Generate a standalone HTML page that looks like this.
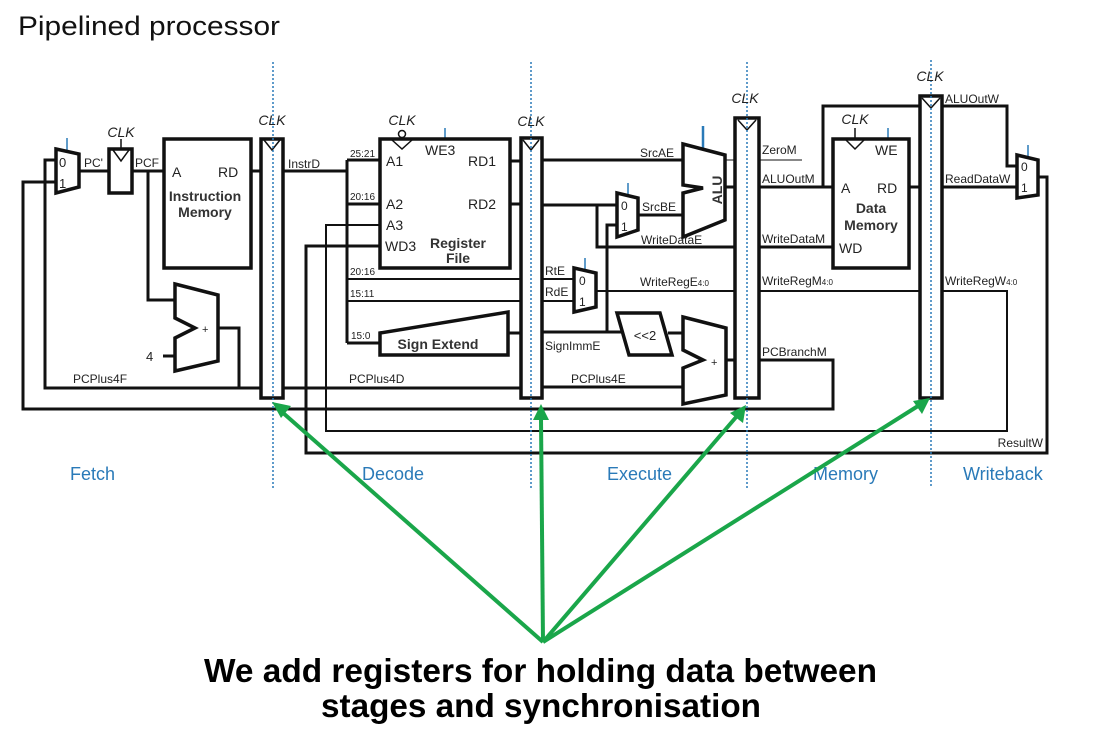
<!DOCTYPE html>
<html><head><meta charset="utf-8"><style>
html,body{margin:0;padding:0;background:#fff;}
svg{display:block;font-family:"Liberation Sans",Arial,sans-serif;}
</style></head><body>
<svg width="1100" height="735" viewBox="0 0 1100 735" xmlns="http://www.w3.org/2000/svg">
<text x="18" y="35" font-size="27" fill="#111" textLength="262" lengthAdjust="spacingAndGlyphs">Pipelined processor</text>

<g fill="none" stroke="#111" stroke-width="3" stroke-linejoin="miter">
<polyline points="79,171 109,171"/>
<polyline points="132,171 164,171"/>
<polyline points="148,171 148,300 175,300"/>
<polyline points="251,171 261,171"/>
<polyline points="218,328 239,328 239,388"/>
<polyline points="56,160 45,160 45,388 261,388"/>
<polyline points="56,182 23,182 23,409 833,409 833,360 759,360"/>
<polyline points="163,356 175,356"/>
<polyline points="283,171 347,171"/>
<polyline points="347,160 347,343"/>
<polyline points="347,160 380,160"/>
<polyline points="347,204 380,204"/>
<polyline points="347,343 380,343"/>
<polyline points="510,161 521,161"/>
<polyline points="510,204 521,204"/>
<polyline points="508,333 521,333"/>
<polyline points="283,388 521,388"/>
<polyline points="380,246 306,246 306,453 1047,453 1047,177 1038,177"/>
<polyline points="542,160 683,160"/>
<polyline points="542,205 617,205"/>
<polyline points="597,205 597,247 735,247"/>
<polyline points="617,225 607,225 607,332"/>
<polyline points="638,215 683,215"/>
<polyline points="542,332 622,332"/>
<polyline points="668,333 683,333"/>
<polyline points="542,387 683,387"/>
<polyline points="725,187 735,187"/>
<polyline points="726,360 735,360"/>
<polyline points="759,187 833,187"/>
<polyline points="823,187 823,106 920,106"/>
<polyline points="759,247 833,247"/>
<polyline points="909,187 920,187"/>
<polyline points="942,106 1007,106 1007,166 1017,166"/>
<polyline points="942,187 1017,187"/>
</g>
<g fill="none" stroke="#111" stroke-width="2">
<polyline points="347,279 521,279"/>
<polyline points="347,301 521,301"/>
<polyline points="380,225 326,225 326,431 1007,431 1007,291 942,291"/>
<polyline points="542,279 574,279"/>
<polyline points="542,301 574,301"/>
<polyline points="596,291 735,291"/>
<polyline points="759,291 920,291"/>
</g>
<line x1="725" y1="160" x2="802" y2="160" stroke="#111" stroke-width="1"/>

<g stroke="#2a7ab8" stroke-width="1.5">
<line x1="67" y1="138" x2="67" y2="151"/>
<line x1="445" y1="128" x2="445" y2="139"/>
<line x1="628" y1="183" x2="628" y2="196"/>
<line x1="585" y1="258" x2="585" y2="270"/>
<line x1="888" y1="128" x2="888" y2="139"/>
<line x1="1028" y1="145" x2="1028" y2="158"/>
<line x1="703" y1="126" x2="703" y2="149" stroke-width="2.5"/>
</g>
<g stroke="#111" stroke-width="1.5">
<line x1="121" y1="139" x2="121" y2="149"/>
<line x1="855" y1="128" x2="855" y2="139"/>
</g>

<g fill="#fff" stroke="#111" stroke-width="3.5">
<polygon points="56,149 79,154 79,187 56,193"/>
<rect x="109" y="149" width="23" height="44"/>
<rect x="164" y="139" width="87" height="129"/>
<polygon points="175,284 218,295 218,361 175,371 175,338 195,328 175,318"/>
<rect x="380" y="139" width="130" height="129"/>
<polygon points="380,333 508,312 508,355 380,355"/>
<polygon points="683,144 725,155 725,220 683,237 683,193 703,188 683,185"/>
<polygon points="617,193 638,198 638,230 617,237"/>
<polygon points="574,268 596,273 596,307 574,312"/>
<polygon points="617,313 660,313 672,355 629,355"/>
<polygon points="683,317 726,328 726,395 683,404 683,368 703,360 683,350"/>
<rect x="833" y="139" width="76" height="129"/>
<polygon points="1017,155 1038,160 1038,195 1017,198"/>
<rect x="261" y="139" width="22" height="259"/>
<rect x="521" y="138" width="21" height="260"/>
<rect x="735" y="118" width="24" height="280"/>
<rect x="920" y="96" width="22" height="302"/>
</g>
<g fill="none" stroke="#111" stroke-width="1.5">
<polyline points="113,150 121,161 129,150"/>
<polyline points="264,140 272,150 280,140"/>
<polyline points="392,140 402,149 412,140"/>
<circle cx="402" cy="134" r="3.5" fill="#fff"/>
<polyline points="523,140 531,150 539,140"/>
<polyline points="738,120 747,130 756,120"/>
<polyline points="846,140 855,149 864,140"/>
<polyline points="922,98 931,108 940,98"/>
</g>

<g stroke="#2a7ab8" stroke-width="1.5" stroke-dasharray="2,2">
<line x1="273" y1="62" x2="273" y2="488"/>
<line x1="531" y1="62" x2="531" y2="488"/>
<line x1="747" y1="62" x2="747" y2="488"/>
<line x1="931" y1="60" x2="931" y2="488"/>
</g>

<g fill="#222" font-size="14" font-style="italic" text-anchor="middle">
<text x="121" y="137">CLK</text>
<text x="272" y="125">CLK</text>
<text x="402" y="125">CLK</text>
<text x="531" y="126">CLK</text>
<text x="745" y="103">CLK</text>
<text x="855" y="124">CLK</text>
<text x="930" y="81">CLK</text>
</g>
<g fill="#222" font-size="13">
<text x="59" y="167">0</text><text x="59" y="188">1</text>
<text x="84" y="167" font-size="12">PC'</text>
<text x="135" y="167" font-size="12">PCF</text>
<text x="172" y="177" font-size="14">A</text>
<text x="218" y="177" font-size="14">RD</text>
<text x="146" y="361" font-size="13">4</text>
<text x="202" y="333" font-size="11">+</text>
<text x="73" y="383" font-size="12">PCPlus4F</text>
<text x="288" y="168" font-size="12">InstrD</text>
<text x="350" y="157" font-size="10">25:21</text>
<text x="350" y="200" font-size="10">20:16</text>
<text x="350" y="275" font-size="10">20:16</text>
<text x="350" y="297" font-size="10">15:11</text>
<text x="351" y="339" font-size="10">15:0</text>
<text x="386" y="166" font-size="14">A1</text>
<text x="386" y="209" font-size="14">A2</text>
<text x="386" y="230" font-size="14">A3</text>
<text x="385" y="251" font-size="14">WD3</text>
<text x="425" y="155" font-size="14">WE3</text>
<text x="468" y="166" font-size="14">RD1</text>
<text x="468" y="209" font-size="14">RD2</text>
<text x="349" y="383" font-size="12">PCPlus4D</text>
<text x="545" y="275" font-size="12">RtE</text>
<text x="545" y="296" font-size="12">RdE</text>
<text x="579" y="285" font-size="12">0</text><text x="579" y="306" font-size="12">1</text>
<text x="545" y="350" font-size="12">SignImmE</text>
<text x="571" y="383" font-size="12">PCPlus4E</text>
<text x="640" y="157" font-size="12">SrcAE</text>
<text x="642" y="211" font-size="12">SrcBE</text>
<text x="621" y="210" font-size="12">0</text><text x="621" y="231" font-size="12">1</text>
<text x="641" y="244" font-size="12">WriteDataE</text>
<text x="640" y="286" font-size="12">WriteRegE<tspan font-size="8">4:0</tspan></text>
<text x="645" y="340" font-size="13" text-anchor="middle">&lt;&lt;2</text>
<text x="711" y="366" font-size="11">+</text>
<text x="762" y="154" font-size="12">ZeroM</text>
<text x="762" y="183" font-size="12">ALUOutM</text>
<text x="762" y="243" font-size="12">WriteDataM</text>
<text x="762" y="285" font-size="12">WriteRegM<tspan font-size="8">4:0</tspan></text>
<text x="762" y="356" font-size="12">PCBranchM</text>
<text x="841" y="193" font-size="14">A</text>
<text x="877" y="193" font-size="14">RD</text>
<text x="875" y="155" font-size="14">WE</text>
<text x="839" y="253" font-size="14">WD</text>
<text x="945" y="103" font-size="12">ALUOutW</text>
<text x="945" y="183" font-size="12">ReadDataW</text>
<text x="945" y="285" font-size="12">WriteRegW<tspan font-size="8">4:0</tspan></text>
<text x="1043" y="447" font-size="12" text-anchor="end">ResultW</text>
<text x="1021" y="171" font-size="12">0</text><text x="1021" y="192" font-size="12">1</text>
</g>
<text x="717" y="190" font-size="14" font-weight="bold" fill="#333" text-anchor="middle" transform="rotate(-90 717 190)" dy="5">ALU</text>
<g fill="#333" font-size="14" font-weight="bold" text-anchor="middle">
<text x="205" y="201">Instruction</text>
<text x="205" y="217">Memory</text>
<text x="458" y="248">Register</text>
<text x="458" y="263">File</text>
<text x="438" y="349">Sign Extend</text>
<text x="871" y="213">Data</text>
<text x="871" y="230">Memory</text>
</g>
<g fill="#2a7ab8" font-size="18">
<text x="70" y="480">Fetch</text>
<text x="362" y="480">Decode</text>
<text x="607" y="480">Execute</text>
<text x="813" y="480">Memory</text>
<text x="963" y="480">Writeback</text>
</g>

<g stroke="#1aa64a" stroke-width="4" fill="none">
<line x1="543" y1="642" x2="282" y2="412"/>
<line x1="543" y1="642" x2="541" y2="418"/>
<line x1="543" y1="642" x2="737" y2="416"/>
<line x1="543" y1="642" x2="918" y2="406"/>
</g>
<g fill="#1aa64a">
<polygon points="272,402 291,406 281,418"/>
<polygon points="541,404 549,420 533,420"/>
<polygon points="746,405 743,423 730,413"/>
<polygon points="930,398 922,414 913,401"/>
</g>

<g fill="#000" font-weight="bold" font-size="33" text-anchor="start">
<text x="204" y="682" textLength="673" lengthAdjust="spacingAndGlyphs">We add registers for holding data between</text>
<text x="321" y="717" textLength="440" lengthAdjust="spacingAndGlyphs">stages and synchronisation</text>
</g>
</svg>
</body></html>
